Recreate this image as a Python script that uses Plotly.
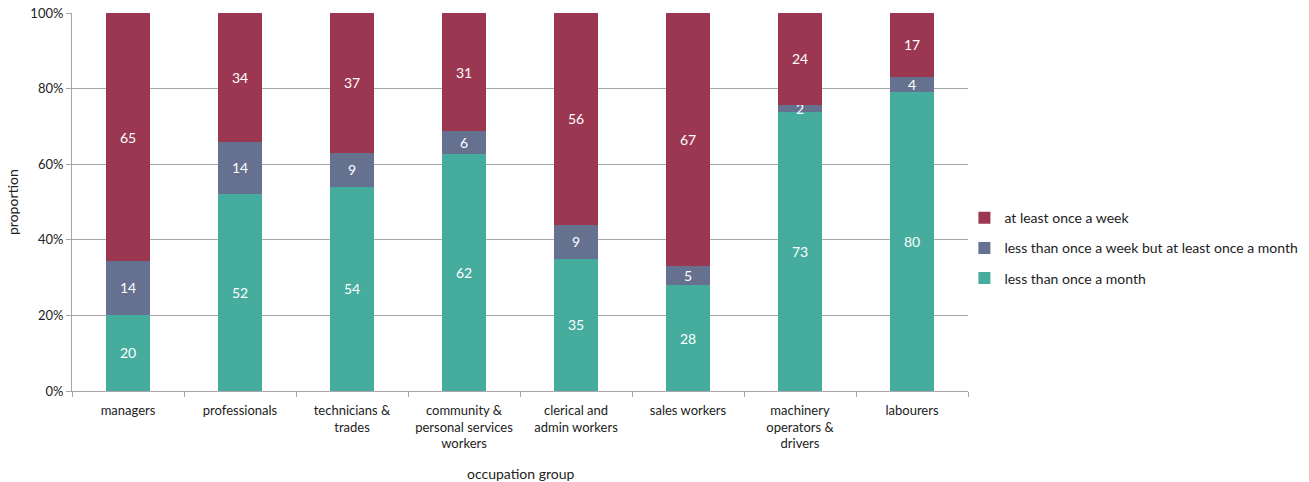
import plotly.graph_objects as go

groups = [
    "managers",
    "professionals",
    "technicians &<br>trades",
    "community &<br>personal services<br>workers",
    "clerical and<br>admin workers",
    "sales workers",
    "machinery<br>operators &<br>drivers",
    "labourers",
]
less_than_month = [20, 52, 54, 62, 35, 28, 73, 80]
week_to_month = [14, 14, 9, 6, 9, 5, 2, 4]
at_least_week = [65, 34, 37, 31, 56, 67, 24, 17]
y_ticks = [0, 20, 40, 60, 80, 100]
y_labels = ["0%", "20%", "40%", "60%", "80%", "100%"]

series = [
    ("less than once a month", less_than_month, "#46AD9E", 3),
    ("less than once a week but at least once a month", week_to_month, "#66718F", 2),
    ("at least once a week", at_least_week, "#9B3750", 1),
]

font = "Lato, Calibri, sans-serif"
grid = "#A6A6A6"

fig = go.Figure()
for name, vals, color, rank in series:
    fig.add_bar(
        x=groups,
        y=vals,
        name=name,
        legendgroup=name,
        legendrank=rank,
        marker_color=color,
        marker_line_width=0,
        text=vals,
        textposition="inside",
        insidetextanchor="middle",
        textangle=0,
        constraintext="none",
        textfont=dict(color="white", size=14, family=font),
    )

fig.update_layout(
    barmode="stack",
    barnorm="percent",
    bargap=0.6,
    width=1309,
    height=482,
    margin=dict(l=72, r=341, t=13, b=91, autoexpand=False),
    plot_bgcolor="white",
    paper_bgcolor="white",
    font=dict(family=font, size=13, color="#222222"),
    legend=dict(
        traceorder="grouped",
        x=0.996,
        y=0.378,
        xanchor="left",
        yanchor="middle",
        font=dict(size=14),
        itemwidth=30,
        tracegroupgap=9,
        bgcolor="rgba(0,0,0,0)",
    ),
    annotations=[
        dict(
            text="occupation group",
            xref="paper", yref="paper", x=0.5, y=0,
            yanchor="middle", yshift=-82, showarrow=False,
            font=dict(size=14),
        ),
        dict(
            text="proportion",
            xref="paper", yref="paper", x=0, y=0.5,
            xanchor="center", xshift=-60, textangle=-90, showarrow=False,
            font=dict(size=14),
        ),
    ],
)
fig.update_yaxes(
    range=[0, 100],
    tickvals=y_ticks,
    ticktext=y_labels,
    showgrid=True,
    gridcolor=grid,
    showline=True,
    linecolor=grid,
    ticks="outside",
    tickcolor=grid,
    ticklen=5,
    zeroline=False,
    automargin=False,
)
fig.update_xaxes(
    showline=True,
    linecolor=grid,
    ticks="outside",
    tickson="boundaries",
    tickcolor=grid,
    ticklen=5,
    tickangle=0,
    ticklabelstandoff=7,
    automargin=False,
)

# drop the default body margin so the figure fills the window exactly
fig.write_html(
    "out.html",
    config={"displayModeBar": False},
    post_script="document.body.style.margin='0';",
)
